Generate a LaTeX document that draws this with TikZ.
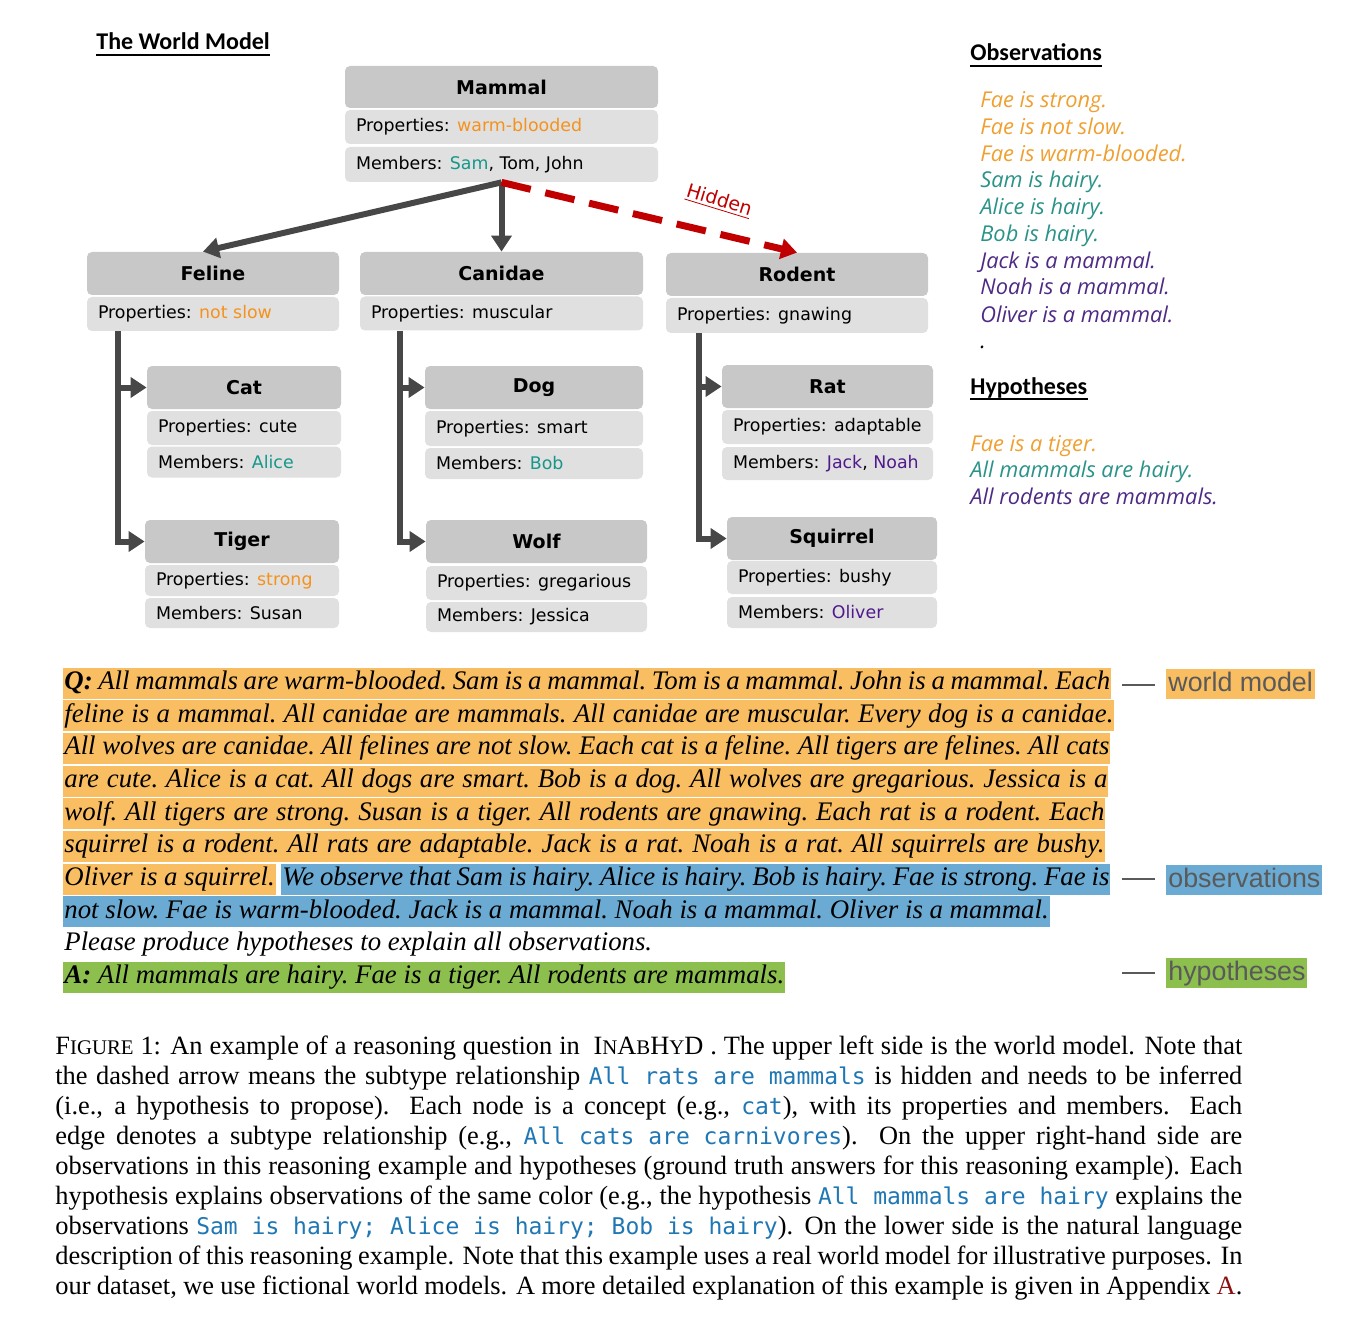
\documentclass[tikz,border=0pt]{standalone}
\usepackage{fontspec}
\setmainfont{Liberation Serif}
\newfontfamily\boxfont{DejaVu Sans}
\newfontfamily\headfont{Carlito}
\newfontfamily\obsfont{Open Sans}
\newfontfamily\labfont{Liberation Sans}
\newfontfamily\capmono{DejaVu Sans Mono}
\usetikzlibrary{arrows.meta,calc}
\definecolor{hdrc}{HTML}{C8C8C8}
\definecolor{rowc}{HTML}{E0E0E0}
\definecolor{arrc}{HTML}{474747}
\definecolor{redc}{HTML}{C00000}
\definecolor{warm}{HTML}{F5921E}
\definecolor{tealc}{HTML}{17978A}
\definecolor{purp}{HTML}{4F1A8C}
\definecolor{obsor}{HTML}{F0A030}
\definecolor{obste}{HTML}{2A9388}
\definecolor{obspu}{HTML}{4E2A84}
\definecolor{hlor}{HTML}{F9BE62}
\definecolor{hlbl}{HTML}{6BAAD3}
\definecolor{hlgr}{HTML}{8CBF4E}
\definecolor{labgray}{HTML}{5A5A5A}
\definecolor{monoblue}{HTML}{1F77B4}
\definecolor{linkred}{HTML}{8B1010}
\newcommand{\mono}[1]{{\capmono\fontsize{11.5}{15}\selectfont\spaceskip=\fontdimen2\font\xspaceskip=\fontdimen2\font\color{monoblue}#1}}
\newcommand{\smc}[1]{{\fontsize{10.4}{15}\selectfont #1}}
\tikzset{
  hdrbox/.style={fill=hdrc, rounded corners=2.5pt, inner sep=0pt,
    font=\boxfont\bfseries\fontsize{9.5}{11}\selectfont},
  rowbox/.style={fill=rowc, rounded corners=2.5pt, inner xsep=5.5pt, inner ysep=0pt,
    font=\boxfont\fontsize{8.7}{10}\selectfont},
  link/.style={draw=arrc, line width=3pt, -{Triangle[length=8pt,width=10pt]}},
  hiddenlink/.style={draw=redc, line width=3.5pt, dash pattern=on 15pt off 7.5pt,
    -{Triangle[length=8pt,width=10pt]}},
  heading/.style={anchor=base west, inner sep=0pt, font=\headfont\bfseries\fontsize{12}{14}\selectfont},
  obsline/.style={anchor=base west, inner sep=0pt, font=\obsfont\itshape\fontsize{10.9}{13}\selectfont},
  qline/.style={anchor=base west, inner xsep=0.5pt, inner ysep=0.5pt, text height=10.5pt,
    text depth=4pt, font=\itshape\fontsize{13.4}{16}\selectfont\frenchspacing},
  labbox/.style={anchor=base west, inner xsep=1pt, inner ysep=1pt, text height=10pt,
    text depth=3pt, text=labgray, font=\labfont\fontsize{13.4}{15}\selectfont},
  labline/.style={draw=labgray, line width=0.6pt, shorten >=5.5pt}
}
\begin{document}
\begin{tikzpicture}[x=0.5pt,y=-0.5pt]
\fill[white] (0,0) rectangle (1371,1332);
\useasboundingbox (0,0) rectangle (1371,1332);

% ---------- heading
\node[heading] (twm) at (96,50) {The World Model};
\draw[line width=0.6pt] ([yshift=-2.5pt]twm.base west) -- ([yshift=-2.5pt]twm.base east);

% ---------- Mammal
\node[hdrbox, minimum width=156.5pt, minimum height=21pt] (mammal) at (501.5,87) {Mammal};
\node[rowbox, minimum height=17pt] (mammalP) at (501.5,127) {\makebox[145.5pt][l]{Properties: \textcolor{warm}{warm-blooded}}};
\node[rowbox, minimum height=17.5pt] (mammalM) at (501.5,164.5) {\makebox[145.5pt][l]{Members: \textcolor{tealc}{Sam}, Tom, John}};

% ---------- Feline
\node[hdrbox, minimum width=126pt, minimum height=21.5pt] (feline) at (213,273.5) {Feline};
\node[rowbox, minimum height=17pt] (felineP) at (213,314) {\makebox[115pt][l]{Properties: \textcolor{warm}{not slow}}};
% ---------- Canidae
\node[hdrbox, minimum width=141.5pt, minimum height=21.5pt] (canidae) at (501.5,273.5) {Canidae};
\node[rowbox, minimum height=17pt] (canidaeP) at (501.5,313.5) {\makebox[130.5pt][l]{Properties: muscular}};
% ---------- Rodent
\node[hdrbox, minimum width=131pt, minimum height=21.5pt] (rodent) at (797,274.5) {Rodent};
\node[rowbox, minimum height=17.5pt] (rodentP) at (797,315.5) {\makebox[120pt][l]{Properties: gnawing}};

% ---------- Cat
\node[hdrbox, minimum width=97pt, minimum height=21.5pt] (cat) at (244,387.5) {Cat};
\node[rowbox, minimum height=17pt] (catP) at (244,428) {\makebox[86pt][l]{Properties: cute}};
\node[rowbox, minimum height=15.5pt] (catM) at (244,462) {\makebox[86pt][l]{Members: \textcolor{tealc}{Alice}}};
% ---------- Dog
\node[hdrbox, minimum width=109pt, minimum height=21.5pt] (dog) at (534,387.5) {Dog};
\node[rowbox, minimum height=17.5pt] (dogP) at (534,428.5) {\makebox[98pt][l]{Properties: smart}};
\node[rowbox, minimum height=15.5pt] (dogM) at (534,463.5) {\makebox[98pt][l]{Members: \textcolor{tealc}{Bob}}};
% ---------- Rat
\node[hdrbox, minimum width=105.5pt, minimum height=21.5pt] (rat) at (827.5,386.5) {Rat};
\node[rowbox, minimum height=17pt] (ratP) at (827.5,427) {\makebox[94.5pt][l]{Properties: adaptable}};
\node[rowbox, minimum height=16.5pt] (ratM) at (827.5,463.5) {\makebox[94.5pt][l]{Members: \textcolor{purp}{Jack}, \textcolor{purp}{Noah}}};
% ---------- Tiger
\node[hdrbox, minimum width=97pt, minimum height=21.5pt] (tiger) at (242,541.5) {Tiger};
\node[rowbox, minimum height=15.5pt] (tigerP) at (242,580.5) {\makebox[86pt][l]{Properties: \textcolor{warm}{strong}}};
\node[rowbox, minimum height=15pt] (tigerM) at (242,613) {\makebox[86pt][l]{Members: Susan}};
% ---------- Wolf
\node[hdrbox, minimum width=110.5pt, minimum height=21.5pt] (wolf) at (536.5,541.5) {Wolf};
\node[rowbox, minimum height=17pt] (wolfP) at (536.5,583) {\makebox[99.5pt][l]{Properties: gregarious}};
\node[rowbox, minimum height=15pt] (wolfM) at (536.5,617) {\makebox[99.5pt][l]{Members: Jessica}};
% ---------- Squirrel
\node[hdrbox, minimum width=105pt, minimum height=21.5pt] (squirrel) at (832,538.5) {Squirrel};
\node[rowbox, minimum height=16.5pt] (squirrelP) at (832,577.5) {\makebox[94pt][l]{Properties: bushy}};
\node[rowbox, minimum height=15.5pt] (squirrelM) at (832,612.5) {\makebox[94pt][l]{Members: \textcolor{purp}{Oliver}}};

% ---------- connectors
\draw[link] (mammalM.south) -- ([xshift=-5pt]feline.north);
\draw[link] (mammalM.south) -- (canidae.north);
\draw[hiddenlink] (mammalM.south) -- (rodent.north);
\node[text=redc, font=\boxfont\fontsize{9.5}{11}\selectfont, rotate=-17, inner sep=0pt] (hid) at (719,201) {\underline{Hidden}};

\draw[link] ([xshift=15.5pt]felineP.south west) |- (cat.west);
\draw[link] ([xshift=15.5pt]felineP.south west) |- (tiger.west);
\draw[link] ([xshift=20pt]canidaeP.south west) |- (dog.west);
\draw[link] ([xshift=20pt]canidaeP.south west) |- (wolf.west);
\draw[link] ([xshift=16.5pt]rodentP.south west) |- (rat.west);
\draw[link] ([xshift=16.5pt]rodentP.south west) |- (squirrel.west);

% ---------- Observations
\node[heading] (obsh) at (970,61) {Observations};
\draw[line width=0.6pt] ([yshift=-2.5pt]obsh.base west) -- ([yshift=-2.5pt]obsh.base east);
\node[obsline, text=obsor] (o1) at (980,108) {Fae is strong.};
\node[obsline, text=obsor] (o2) at (980,135) {Fae is not slow.};
\node[obsline, text=obsor] (o3) at (980,162) {Fae is warm-blooded.};
\node[obsline, text=obste] (o4) at (980,188) {Sam is hairy.};
\node[obsline, text=obste] (o5) at (980,215) {Alice is hairy.};
\node[obsline, text=obste] (o6) at (980,242) {Bob is hairy.};
\node[obsline, text=obspu] (o7) at (980,269) {Jack is a mammal.};
\node[obsline, text=obspu] (o8) at (980,295) {Noah is a mammal.};
\node[obsline, text=obspu] (o9) at (980,322) {Oliver is a mammal.};
\node[obsline, text=black] (odot) at (980,349) {.};

\node[heading] (hyph) at (970,394) {Hypotheses};
\draw[line width=0.6pt] ([yshift=-2.5pt]hyph.base west) -- ([yshift=-2.5pt]hyph.base east);
\node[obsline, text=obsor] (h1) at (970,451) {Fae is a tiger.};
\node[obsline, text=obste] (h2) at (970,477) {All mammals are hairy.};
\node[obsline, text=obspu] (h3) at (970,504) {All rodents are mammals.};

% ---------- Q / A block
\node[qline, fill=hlor] (q1) at (63,689.5) {\makebox[523pt][s]{\textbf{Q:} All mammals are warm-blooded. Sam is a mammal. Tom is a mammal. John is a mammal. Each}};
\node[qline, fill=hlor] (q2) at (63,722.2) {\makebox[524.5pt][s]{feline is a mammal. All canidae are mammals. All canidae are muscular. Every dog is a canidae.}};
\node[qline, fill=hlor] (q3) at (63,754.8) {\makebox[522.5pt][s]{All wolves are canidae. All felines are not slow. Each cat is a feline. All tigers are felines. All cats}};
\node[qline, fill=hlor] (q4) at (63,787.5) {\makebox[521.5pt][s]{are cute. Alice is a cat. All dogs are smart. Bob is a dog. All wolves are gregarious. Jessica is a}};
\node[qline, fill=hlor] (q5) at (63,820.2) {\makebox[520pt][s]{wolf. All tigers are strong. Susan is a tiger. All rodents are gnawing. Each rat is a rodent. Each}};
\node[qline, fill=hlor] (q6) at (63,852.9) {\makebox[520pt][s]{squirrel is a rodent. All rats are adaptable. Jack is a rat. Noah is a rat. All squirrels are bushy.}};
\node[qline, fill=hlor] (q7a) at (63,885.5) {Oliver is a squirrel.};
\node[qline, fill=hlbl] (q7b) at (281,885.5) {\makebox[413.5pt][s]{We observe that Sam is hairy. Alice is hairy. Bob is hairy. Fae is strong. Fae is}};
\node[qline, fill=hlbl] (q8) at (63,918.2) {not slow. Fae is warm-blooded. Jack is a mammal. Noah is a mammal. Oliver is a mammal.};
\node[qline] (q9) at (63,950.9) {Please produce hypotheses to explain all observations.};
\node[qline, fill=hlgr] (q10) at (63,983.5) {\textbf{A:} All mammals are hairy. Fae is a tiger. All rodents are mammals.};

% ---------- labels
\node[labbox, fill=hlor] (lwm) at (1166,691) {world model};
\node[labbox, fill=hlbl] (lobs) at (1166,887) {observations};
\node[labbox, fill=hlgr] (lhyp) at (1166,980) {hypotheses};
\coordinate (c1) at (1122,685);
\coordinate (c2) at (1122,879);
\coordinate (c3) at (1122,973);
\draw[labline] (c1) -- (c1 -| lwm.west);
\draw[labline] (c2) -- (c2 -| lobs.west);
\draw[labline] (c3) -- (c3 -| lhyp.west);

% ---------- caption
\node[anchor=north west, inner sep=0pt] (cap) at (55,1033) {\parbox{593.5pt}{\fontsize{13.2}{15}\selectfont\parindent=0pt\parfillskip=0pt\strut
F\smc{IGURE} 1: An example of a reasoning question in \ I\smc{N}A\smc{B}H\smc{Y}D\ . The upper left side is the world model. Note that\linebreak
the dashed arrow means the subtype relationship \mono{All rats are mammals} is hidden and needs to be inferred\linebreak
(i.e., a hypothesis to propose). Each node is a concept (e.g., \mono{cat}), with its properties and members. Each\linebreak
edge denotes a subtype relationship (e.g., \mono{All cats are carnivores}). On the upper right-hand side are\linebreak
observations in this reasoning example and hypotheses (ground truth answers for this reasoning example). Each\linebreak
hypothesis explains observations of the same color (e.g., the hypothesis \mono{All mammals are hairy} explains the\linebreak
observations \mono{Sam is hairy; Alice is hairy; Bob is hairy}). On the lower side is the natural language\linebreak
description of this reasoning example. Note that this example uses a real world model for illustrative purposes. In\linebreak
our dataset, we use fictional world models. A more detailed explanation of this example is given in Appendix \textcolor{linkred}{A}.}};
\end{tikzpicture}
\end{document}
